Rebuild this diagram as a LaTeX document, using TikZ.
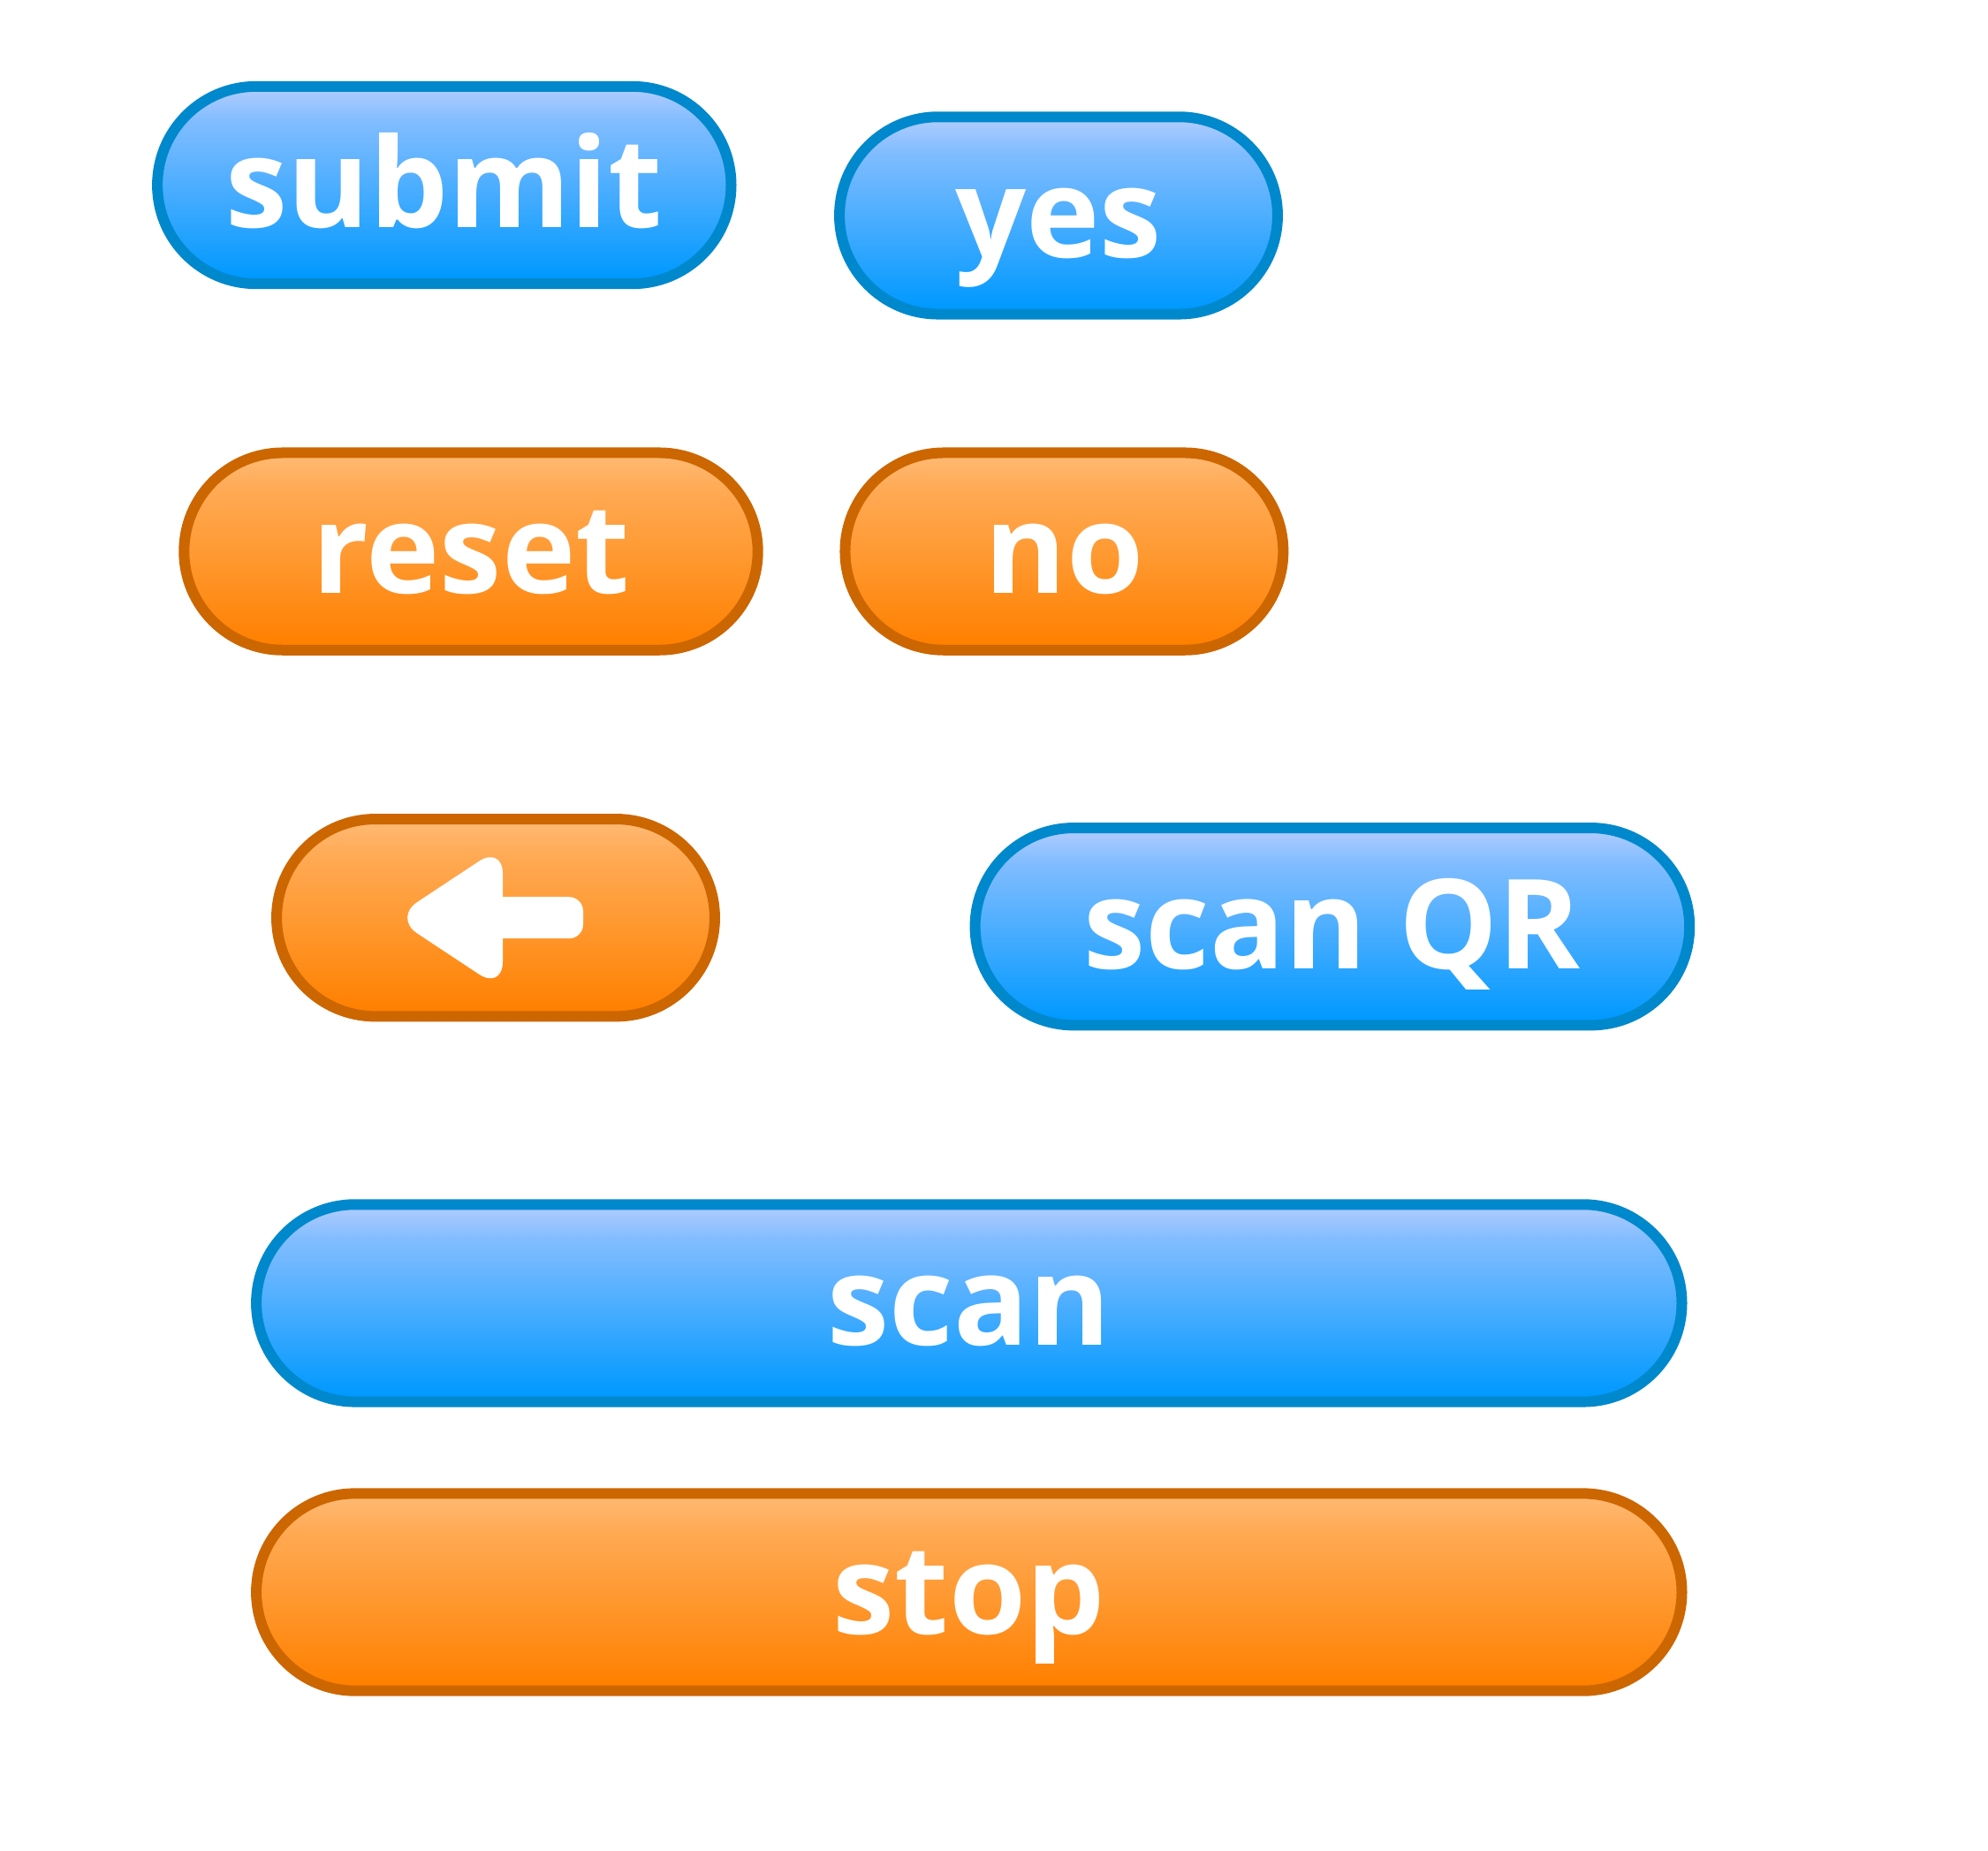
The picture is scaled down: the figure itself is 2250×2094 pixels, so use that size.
\documentclass[tikz,border=0pt]{standalone}
\usepackage{fontspec}
\setmainfont{Open Sans}
\usetikzlibrary{shapes.misc}
\definecolor{blueline}{HTML}{0088CC}
\definecolor{orangeline}{HTML}{CC6600}
\pgfdeclareverticalshading{bluefade}{100bp}{color(0bp)=(white); color(26.5bp)=({rgb,255:red,0;green,153;blue,255}); color(50bp)=({rgb,255:red,77;green,174;blue,255}); color(66bp)=({rgb,255:red,128;green,188;blue,255}); color(73.5bp)=({rgb,255:red,170;green,202;blue,255}); color(100bp)=({rgb,255:red,170;green,202;blue,255})}
\pgfdeclareverticalshading{orangefade}{100bp}{color(0bp)=(white); color(26.5bp)=({rgb,255:red,255;green,128;blue,0}); color(50bp)=({rgb,255:red,255;green,154;blue,51}); color(66bp)=({rgb,255:red,255;green,170;blue,85}); color(73.5bp)=({rgb,255:red,255;green,184;blue,112}); color(100bp)=({rgb,255:red,255;green,184;blue,112})}
\tikzset{
  btn/.style={rounded rectangle, rounded rectangle arc length=180, line width=12pt, minimum height=223.3pt, inner sep=0pt,
    text=white, text height=95.4pt, text depth=0pt, font=\fontsize{141pt}{141pt}\selectfont\bfseries},
  bluebtn/.style={btn, draw=blueline, shading=bluefade},
  orangebtn/.style={btn, draw=orangeline, shading=orangefade}
}
\begin{document}
\begin{tikzpicture}[x=1pt,y=-1pt]
    \useasboundingbox (0,0) rectangle (2250,2094);
    \node[bluebtn, minimum width=649.4pt] (submitbtn) at (502.8,209.5) {submit};
    \node[bluebtn, minimum width=495.9pt] (yesbtn) at (1198,243.9) {yes};
    \node[orangebtn, minimum width=649.4pt] (resetbtn) at (533,624.1) {reset};
    \node[orangebtn, minimum width=495.9pt] (nobtn) at (1204.4,624.1) {no};
    \node[orangebtn, minimum width=495.9pt] (backbtn) at (561,1038.7) {};
    \node[bluebtn, minimum width=808.6pt] (qrbtn) at (1507.9,1048.7) {scan QR};
    \node[bluebtn, minimum width=1613.4pt] (scanbtn) at (1096.8,1474.9) {scan};
    \node[orangebtn, minimum width=1613.4pt] (stopbtn) at (1096.8,1802) {stop};
    % arrow on the back button
    \fill[white, shift={(backbtn.center)}] (8,23.5) [rounded corners=32pt] -- (8,81.7) -- (-115.5,0) -- (8,-81.7) [sharp corners] -- (8,-23.5) [rounded corners=16pt] -- (99,-23.5) -- (99,23.5) [sharp corners] -- cycle;
\end{tikzpicture}
\end{document}
